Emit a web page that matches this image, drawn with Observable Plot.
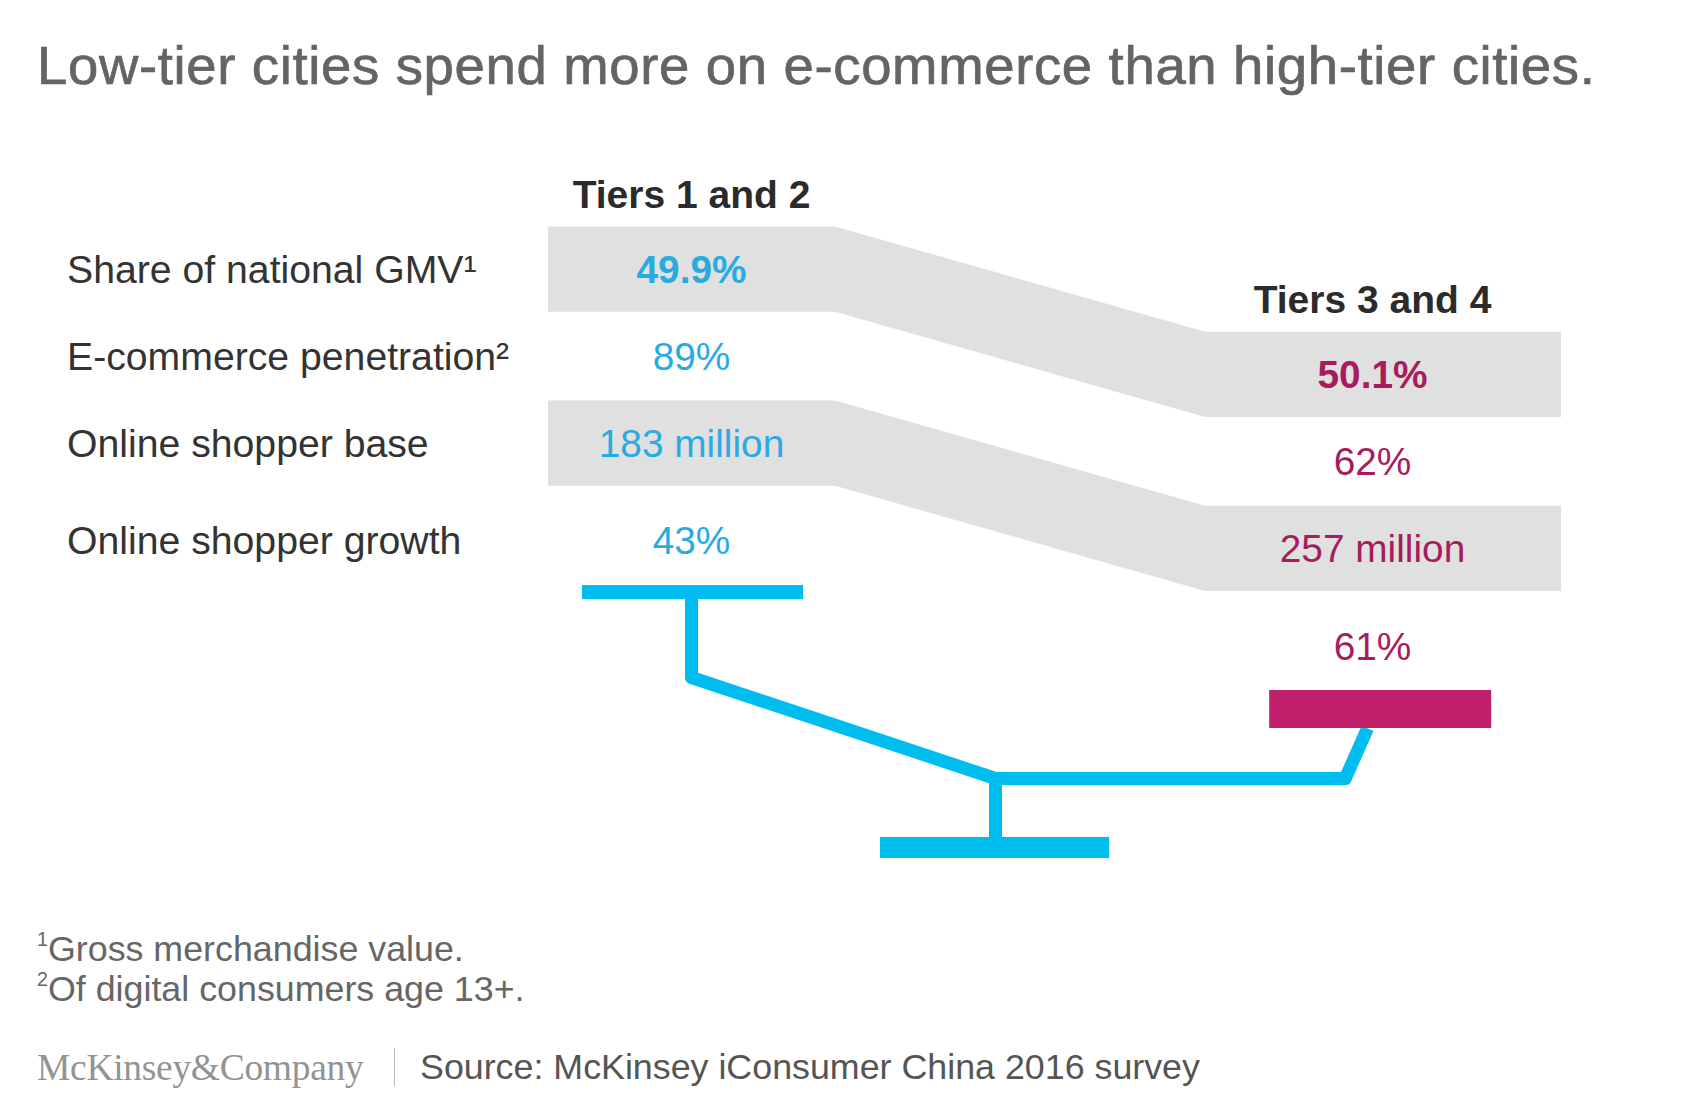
<!DOCTYPE html>
<html>
<head>
<meta charset="utf-8">
<script src="https://cdn.jsdelivr.net/npm/d3@7"></script>
<script src="https://cdn.jsdelivr.net/npm/@observablehq/plot@0.6"></script>
<style>
  html, body { margin: 0; padding: 0; background: #ffffff; }
  #page { position: relative; width: 1686px; height: 1110px; overflow: hidden; font-family: "Liberation Sans", Arial, Helvetica, sans-serif; }
  .abs { position: absolute; white-space: nowrap; line-height: 1; }
  #title { left: 37px; top: 39px; font-size: 54.5px; letter-spacing: 0.65px; color: #646464; -webkit-text-stroke: 0.7px #646464; }
  #chart { position: absolute; left: 0; top: 120px; }
  .fn { left: 37px; font-size: 35.8px; color: #666666; }
  .fn sup { font-size: 0.55em; vertical-align: 0.75em; line-height: 0; }
  #logo { left: 37px; top: 1049px; font-family: "Liberation Serif", "Times New Roman", serif; font-size: 37.5px; color: #939393; letter-spacing: -0.3px; }
  #sep { position: absolute; left: 394px; top: 1048px; width: 0; height: 38px; border-left: 1.5px solid #b5b5b5; }
  #source { left: 420px; top: 1050px; font-size: 35.8px; color: #555555; }
</style>
</head>
<body>
<div id="page">
  <div id="title" class="abs"></div>
  <div id="chart"></div>
  <div id="fn1" class="abs fn" style="top:932px"></div>
  <div id="fn2" class="abs fn" style="top:972px"></div>
  <div id="logo" class="abs"></div>
  <div id="sep"></div>
  <div id="source" class="abs"></div>
</div>
<script>
// ---------------- data ----------------
const title = "Low-tier cities spend more on e-commerce than high-tier cities.";
const tiers = ["Tiers 1 and 2", "Tiers 3 and 4"];
const metrics = ["Share of national GMV\u00b9", "E-commerce penetration\u00b2", "Online shopper base", "Online shopper growth"];
const tier12Values = ["49.9%", "89%", "183 million", "43%"];
const tier34Values = ["50.1%", "62%", "257 million", "61%"];
const shadedMetrics = ["Share of national GMV\u00b9", "Online shopper base"];
const boldMetrics = ["Share of national GMV\u00b9"];
const footnotes = ["Gross merchandise value.", "Of digital consumers age 13+."];
const logoText = "McKinsey&Company";
const sourceText = "Source: McKinsey iConsumer China 2016 survey";

// ---------------- layout (column / row units) ----------------
const TIER_SHIFT = 1.21;            // tiers 3 & 4 sit lower
const rowPos = i => i + (i === 3 ? 0.12 : 0);
const yOf = (t, i) => rowPos(i) + t * TIER_SHIFT;
const LABEL_X = -0.917;
const HEADER_Y = -0.862;
const BAND = {x0: -0.21, x1: 0.2115, x2: 0.755, x3: 1.2775, top: -0.5, bottom: 0.48};

const COLORS = {
  label: "#333333", header: "#2b2b2b",
  blueText: "#29abe2", magentaText: "#a61c5c",
  band: "#e0e0e0", blue: "#00bdf0", magenta: "#c01f6b"
};

const valueRows = [
  ...tier12Values.map((v, i) => ({tier: 0, metric: metrics[i], row: i, text: v})),
  ...tier34Values.map((v, i) => ({tier: 1, metric: metrics[i], row: i, text: v}))
];

const bands = shadedMetrics.flatMap(m => {
  const i = metrics.indexOf(m);
  const l = yOf(0, i), r = yOf(1, i);
  return [
    {metric: m, x: BAND.x0, y1: l + BAND.top, y2: l + BAND.bottom},
    {metric: m, x: BAND.x1, y1: l + BAND.top, y2: l + BAND.bottom},
    {metric: m, x: BAND.x2, y1: r + BAND.top, y2: r + BAND.bottom},
    {metric: m, x: BAND.x3, y1: r + BAND.top, y2: r + BAND.bottom}
  ];
});

// seesaw balance (illustration geometry, in column/row units)
const pivotX = 0.4464, beamY = 5.839;
const seesawBeam = [
  {x: 0, y: 3.70}, {x: 0, y: 4.678}, {x: pivotX, y: beamY},
  {x: 0.960, y: beamY}, {x: 0.9927, y: 5.264}
];
const seesawStem = [{x: pivotX, y: beamY}, {x: pivotX, y: 6.62}];
const seesawBars = [
  {x1: -0.160, x2: 0.1645, y1: 3.621, y2: 3.782, fill: COLORS.blue},
  {x1: pivotX - 0.1689, x2: pivotX + 0.1674, y1: 6.517, y2: 6.759, fill: COLORS.blue},
  {x1: 0.849, x2: 1.175, y1: 4.828, y2: 5.264, fill: COLORS.magenta}
];

const FONT = "Liberation Sans, Arial, Helvetica, sans-serif";

const chart = Plot.plot({
  width: 1686,
  height: 760,
  margin: 0,
  x: {domain: [0, 1], range: [691, 1372], axis: null},
  y: {domain: [0, 1], range: [150, 237], axis: null},
  style: {background: "transparent", fontFamily: FONT},
  marks: [
    Plot.areaY(bands, {x: "x", y1: "y1", y2: "y2", z: "metric", fill: COLORS.band, curve: "linear"}),
    Plot.text(tiers, {x: (d, i) => i, y: (d, i) => HEADER_Y + i * TIER_SHIFT, text: d => d,
      fontSize: 39, fontWeight: "bold", fill: COLORS.header}),
    Plot.text(metrics, {x: () => LABEL_X, y: (d, i) => yOf(0, i), text: d => d,
      textAnchor: "start", fontSize: 39.2, fill: COLORS.label}),
    Plot.text(valueRows, {filter: d => d.tier === 0 && !boldMetrics.includes(d.metric),
      x: "tier", y: d => yOf(d.tier, d.row), text: "text", fontSize: 38.8, fill: COLORS.blueText}),
    Plot.text(valueRows, {filter: d => d.tier === 0 && boldMetrics.includes(d.metric),
      x: "tier", y: d => yOf(d.tier, d.row), text: "text", fontSize: 38.8, fontWeight: "bold", fill: COLORS.blueText}),
    Plot.text(valueRows, {filter: d => d.tier === 1 && !boldMetrics.includes(d.metric),
      x: "tier", y: d => yOf(d.tier, d.row), text: "text", fontSize: 38.8, fill: COLORS.magentaText}),
    Plot.text(valueRows, {filter: d => d.tier === 1 && boldMetrics.includes(d.metric),
      x: "tier", y: d => yOf(d.tier, d.row), text: "text", fontSize: 38.8, fontWeight: "bold", fill: COLORS.magentaText}),
    Plot.line(seesawBeam, {x: "x", y: "y", stroke: COLORS.blue, strokeWidth: 13, strokeLinejoin: "round", strokeLinecap: "butt"}),
    Plot.line(seesawStem, {x: "x", y: "y", stroke: COLORS.blue, strokeWidth: 13, strokeLinecap: "butt"}),
    Plot.rect(seesawBars, {x1: "x1", x2: "x2", y1: "y1", y2: "y2", fill: d => d.fill})
  ]
});
document.getElementById("chart").appendChild(chart);

document.getElementById("title").textContent = title;
document.getElementById("fn1").innerHTML = "<sup>1</sup>" + footnotes[0];
document.getElementById("fn2").innerHTML = "<sup>2</sup>" + footnotes[1];
document.getElementById("logo").textContent = logoText;
document.getElementById("source").textContent = sourceText;
</script>
</body>
</html>
